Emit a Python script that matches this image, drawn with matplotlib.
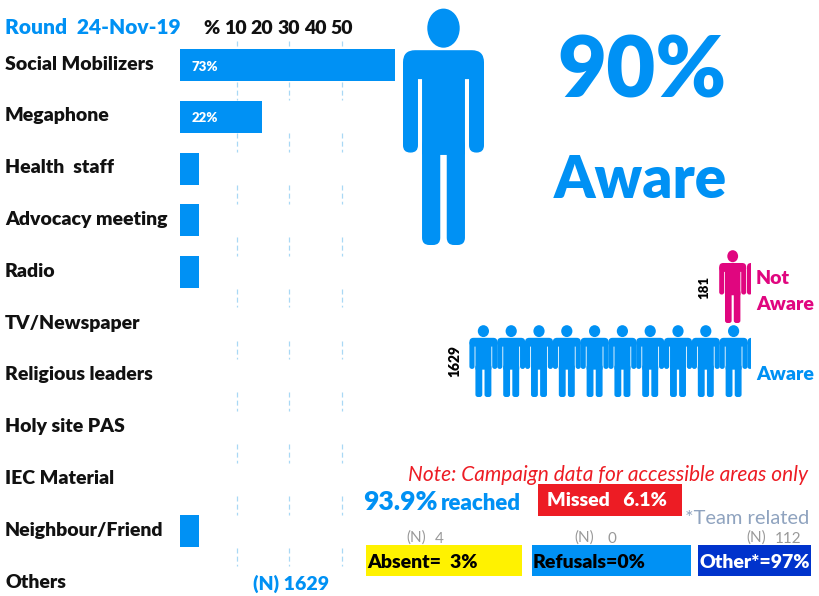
import matplotlib
matplotlib.use("Agg")
import matplotlib.pyplot as plt
from matplotlib.patches import Ellipse, FancyBboxPatch, Rectangle

plt.rcParams['font.family'] = ['Lato', 'DejaVu Sans']

BLUE = '#0091F4'
PINK = '#E0067F'
RED = '#ED1C24'
YELLOW = '#FFF200'
NAVY = '#0033CC'
HEAVY = 800

categories = ['Social Mobilizers', 'Megaphone', 'Health  staff', 'Advocacy meeting',
              'Radio', 'TV/Newspaper', 'Religious leaders', 'Holy site PAS',
              'IEC Material', 'Neighbour/Friend', 'Others']
values = [73, 22, 5, 5, 5, 0, 0, 0, 0, 5, 0]
bar_labels = ['73%', '22%', '', '', '', '', '', '', '', '', '']
top_labels = ['%', '10', '20', '30', '40', '50']
grid_values = [15.3, 29.3, 43.5]

W, H = 819, 596
fig = plt.figure(figsize=(W / 100, H / 100), dpi=100)

# bar panel, right edge cuts the long bar like the person picture does
x0, x1 = 180, 395
ax = fig.add_axes([x0 / W, 0, (x1 - x0) / W, 1])
row_px = 51.8
first_px = 65
ax.set_xlim(0, (x1 - x0) / 3.73)
ax.set_ylim((H - first_px) / row_px, -first_px / row_px)
ax.barh(range(len(values)), values, height=0.62, color=BLUE, zorder=2)
# grid only shows in the gaps between rows
for i in range(-1, 10):
    ax.vlines(grid_values, max(i + 0.32, -0.46), i + 0.68, color='#A9D8F5', lw=0.9,
              linestyles=(0, (4, 2.5)), zorder=1)
for i, lab in enumerate(bar_labels):
    if lab:
        ax.text(3.2, i + 0.03, lab, color='white', fontsize=9.5, fontweight=HEAVY, va='center')
ax.axis('off')

# everything else is placed in pixel coordinates
pg = fig.add_axes([0, 0, 1, 1])
pg.set_xlim(0, W)
pg.set_ylim(H, 0)
pg.axis('off')
pg.patch.set_alpha(0)


def round_rect(x_a, y_a, x_b, y_b, r, color, clip=None):
    p = FancyBboxPatch((x_a, y_a), x_b - x_a, y_b - y_a, boxstyle=f'round,pad=0,rounding_size={r}',
                       fc=color, ec='none')
    pg.add_patch(p)
    if clip is not None:
        p.set_clip_path(clip)


def person(cx, top, w, h, color, clip_x=None, gap=0.05):
    clip = None
    if clip_x is not None:
        clip = Rectangle((cx - w, top), clip_x - cx + w, h, transform=pg.transData)
    head = Ellipse((cx, top + 0.085 * h), 0.40 * w, 0.165 * h, fc=color, ec='none')
    pg.add_patch(head)
    if clip is not None:
        head.set_clip_path(clip)
    ra = 0.09 * w
    body = 0.315 - gap
    round_rect(cx - 0.5 * w, top + 0.178 * h, cx + 0.5 * w, top + 0.30 * h, 0.15 * w, color, clip)
    round_rect(cx - 0.5 * w, top + 0.22 * h, cx - 0.315 * w, top + 0.61 * h, ra, color, clip)
    round_rect(cx + 0.315 * w, top + 0.22 * h, cx + 0.5 * w, top + 0.61 * h, ra, color, clip)
    round_rect(cx - body * w, top + 0.19 * h, cx + body * w, top + 0.62 * h, 0.02 * w, color, clip)
    round_rect(cx - body * w, top + 0.55 * h, cx - 0.04 * w, top + h, ra, color, clip)
    round_rect(cx + 0.04 * w, top + 0.55 * h, cx + body * w, top + h, ra, color, clip)


for i, name in enumerate(categories):
    pg.text(5, 64 + i * 51.8, name, fontsize=14, fontweight=HEAVY, color='#111111', va='center')

pg.text(5, 27, 'Round  24-Nov-19', fontsize=15, fontweight=HEAVY, color=BLUE, va='center')
for lab, x in zip(top_labels, [211, 235, 262, 289, 315, 342]):
    pg.text(x, 28, lab, fontsize=14, fontweight=HEAVY, color='#111111', ha='center', va='center')
pg.text(291, 584, '(N) 1629', fontsize=14, fontweight=HEAVY, color=BLUE, ha='center', va='center')

person(443.5, 8, 81, 237, BLUE)
pg.text(642, 73, '90%', fontsize=61, fontweight=HEAVY, color=BLUE, ha='center', va='center')
pg.text(640, 180, 'Aware', fontsize=42, fontweight=HEAVY, color=BLUE, ha='center', va='center')

# pictogram rows
aware_n = 1629
not_aware_n = 181
for i in range(11):
    person(483.4 + i * 27.8, 325, 28, 72, BLUE, clip_x=751, gap=0.03)
for i in range(2):
    person(732.7 + i * 27.8, 250, 27, 73, PINK, clip_x=751, gap=0.03)
pg.text(704, 287, str(not_aware_n), fontsize=9.5, fontweight=HEAVY, rotation=90, ha='center', va='center')
pg.text(455, 361, str(aware_n), fontsize=10, fontweight=HEAVY, rotation=90, ha='center', va='center')
pg.text(756, 278, 'Not', fontsize=14, fontweight=HEAVY, color=PINK, va='center')
pg.text(756, 304, 'Aware', fontsize=14, fontweight=HEAVY, color=PINK, va='center')
pg.text(756, 374, 'Aware', fontsize=14, fontweight=HEAVY, color=BLUE, va='center')

# campaign summary
pg.text(808, 475, 'Note: Campaign data for accessible areas only', fontsize=15, style='italic',
        color=RED, ha='right', va='center')
pg.text(363, 502, '93.9%', fontsize=19, fontweight=HEAVY, color=BLUE, va='center')
pg.text(441, 503, 'reached', fontsize=16, fontweight=HEAVY, color=BLUE, va='center')
pg.add_patch(Rectangle((538, 484), 144, 32, fc=RED, ec='none'))
pg.text(547, 501, 'Missed   6.1%', fontsize=14, fontweight=HEAVY, color='white', va='center')
pg.text(809, 519, '*Team related', fontsize=14.5, color='#8FA3BF', ha='right', va='center')

boxes = [('Absent=  3%', 366, 522, YELLOW, 'black'),
         ('Refusals=0%', 532, 691, BLUE, 'black'),
         ('Other*=97%', 698, 811, NAVY, 'white')]
for lab, a, b, fc, tc in boxes:
    pg.add_patch(Rectangle((a, 545), b - a, 31, fc=fc, ec='none'))
    pg.text(a + 1, 562, lab, fontsize=14, fontweight=HEAVY, color=tc, va='center')
for x, n, nx in [(416, '4', 439), (584, '0', 612), (756, '112', 788)]:
    pg.text(x, 538, '(N)', fontsize=11, color='#999999', ha='center', va='center')
    pg.text(nx, 539, n, fontsize=11, color='#999999', ha='center', va='center')

fig.savefig('out.png', dpi=100)
